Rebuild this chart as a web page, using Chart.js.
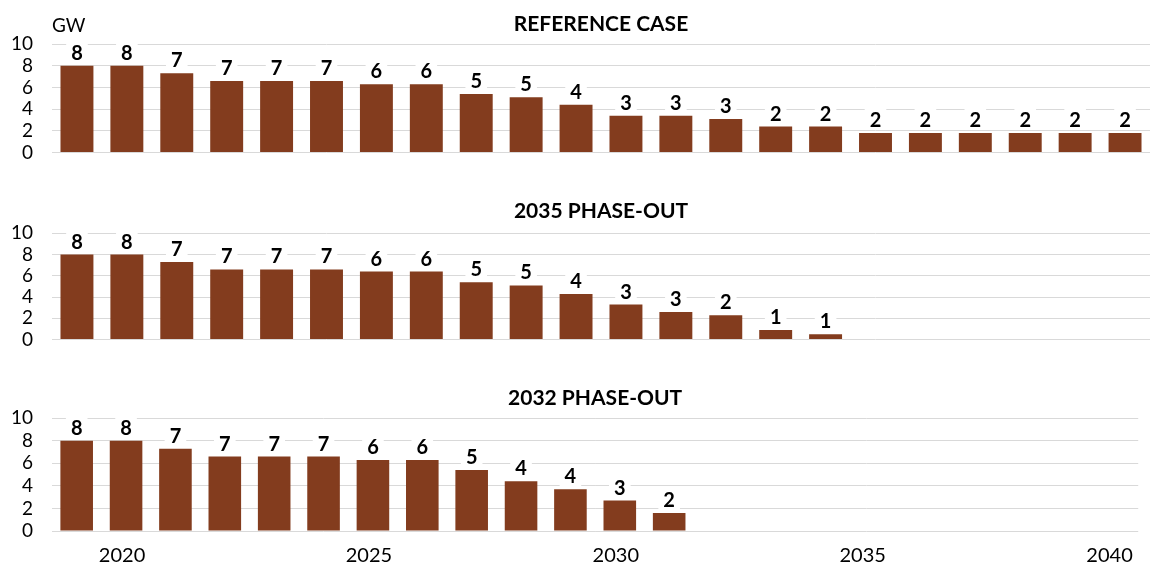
<!DOCTYPE html>
<html>
<head>
<meta charset="utf-8">
<script src="https://cdn.jsdelivr.net/npm/chart.js@4"></script>
<style>
  body { margin: 0; background: #fff; overflow: hidden; }
  .painel { position: absolute; left: 0; width: 1150px; }
</style>
</head>
<body>
<div class="painel" style="top:0;height:183px"><canvas id="grafico-ref"></canvas></div>
<div class="painel" style="top:187px;height:183px"><canvas id="grafico-2035"></canvas></div>
<div class="painel" style="top:374px;height:207px"><canvas id="grafico-2032"></canvas></div>
<script>
const anos = [
  "2019", "2020", "2021", "2022", "2023", "2024", "2025", "2026", "2027", "2028", "2029",
  "2030", "2031", "2032", "2033", "2034", "2035", "2036", "2037", "2038", "2039", "2040",
];
const casoReferencia = [8.0, 8.0, 7.3, 6.6, 6.6, 6.6, 6.3, 6.3, 5.4, 5.1, 4.4, 3.4, 3.4, 3.1, 2.4, 2.4, 1.8, 1.8, 1.8, 1.8, 1.8, 1.8];
const saida2035 = [8.0, 8.0, 7.3, 6.6, 6.6, 6.6, 6.4, 6.4, 5.4, 5.1, 4.3, 3.3, 2.6, 2.3, 0.9, 0.5];
const saida2032 = [8.0, 8.0, 7.3, 6.6, 6.6, 6.6, 6.3, 6.3, 5.4, 4.4, 3.7, 2.7, 1.6];
const ticksY = [0, 2, 4, 6, 8, 10];
const anosMarcados = ["2020", "2025", "2030", "2035", "2040"];

const corBarra = "#833C1E";
const fonte = "Lato";

// rotulos de valor em cima das barras (arredondados, com fundo branco)
const rotulos = {
  id: "rotulos",
  afterDatasetsDraw(chart) {
    const ctx = chart.ctx;
    const dados = chart.data.datasets[0].data;
    ctx.save();
    ctx.font = "bold 20px " + fonte;
    ctx.textAlign = "center";
    ctx.textBaseline = "alphabetic";
    chart.getDatasetMeta(0).data.forEach((barra, i) => {
      if (dados[i] == null) return;
      const txt = String(Math.round(dados[i]));
      const w = ctx.measureText(txt).width;
      ctx.fillStyle = "#fff";
      ctx.fillRect(barra.x - w / 2 - 5, barra.y - 25, w + 10, 22);
      ctx.fillStyle = "#000";
      ctx.fillText(txt, barra.x, barra.y - 6);
    });
    if (chart.options.plugins.rotulos.unidade) {
      ctx.font = "19px " + fonte;
      ctx.textAlign = "left";
      ctx.fillText(chart.options.plugins.rotulos.unidade, chart.chartArea.left, 32);
    }
    ctx.restore();
  },
};

function criarGrafico(id, valores, titulo, opts) {
  const dados = anos.map((a, i) => (i < valores.length ? valores[i] : null));
  return new Chart(document.getElementById(id), {
    type: "bar",
    data: {
      labels: anos,
      datasets: [
        {
          label: titulo,
          data: dados,
          backgroundColor: corBarra,
          borderWidth: 0,
          barPercentage: 0.66,
          categoryPercentage: 1,
        },
      ],
    },
    options: {
      maintainAspectRatio: false,
      animation: false,
      layout: { padding: { bottom: 0, right: 0, left: 0, top: 0 } },
      plugins: {
        legend: { display: false },
        tooltip: { enabled: false },
        rotulos: { unidade: opts.unidade },
        title: {
          display: true,
          text: titulo,
          fullSize: false,
          color: "#000",
          font: { family: fonte, size: 21, weight: "bold" },
          padding: { top: opts.tituloCima, bottom: opts.tituloBaixo },
        },
      },
      scales: {
        x: {
          display: opts.mostrarX,
          grid: { display: false, drawTicks: false },
          border: { display: false },
          ticks: {
            autoSkip: false,
            maxRotation: 0,
            padding: 13,
            labelOffset: -4,
            color: "#000",
            font: { family: fonte, size: 20 },
            callback: function (v) {
              const a = anos[v];
              return anosMarcados.includes(a) ? a : "";
            },
          },
        },
        y: {
          min: 0,
          max: 10,
          afterBuildTicks: (s) => { s.ticks = ticksY.map((v) => ({ value: v })); },
          afterFit: (s) => { s.width = 52; },
          grid: { color: "#d9d9d9", lineWidth: 1, drawTicks: false },
          border: { display: false },
          ticks: {
            autoSkip: false,
            padding: 19,
            color: "#000",
            font: { family: fonte, size: 19 },
          },
        },
      },
    },
    plugins: [rotulos],
  });
}

criarGrafico("grafico-ref", casoReferencia, "REFERENCE CASE", {
  tituloCima: 11.4, tituloBaixo: 7.4, mostrarX: false, unidade: "GW",
});
criarGrafico("grafico-2035", saida2035, "2035 PHASE-OUT", {
  tituloCima: 11.4, tituloBaixo: 9.7, mostrarX: false,
});
criarGrafico("grafico-2032", saida2032, "2032 PHASE-OUT", {
  tituloCima: 12, tituloBaixo: 7, mostrarX: true,
});
</script>
</body>
</html>
